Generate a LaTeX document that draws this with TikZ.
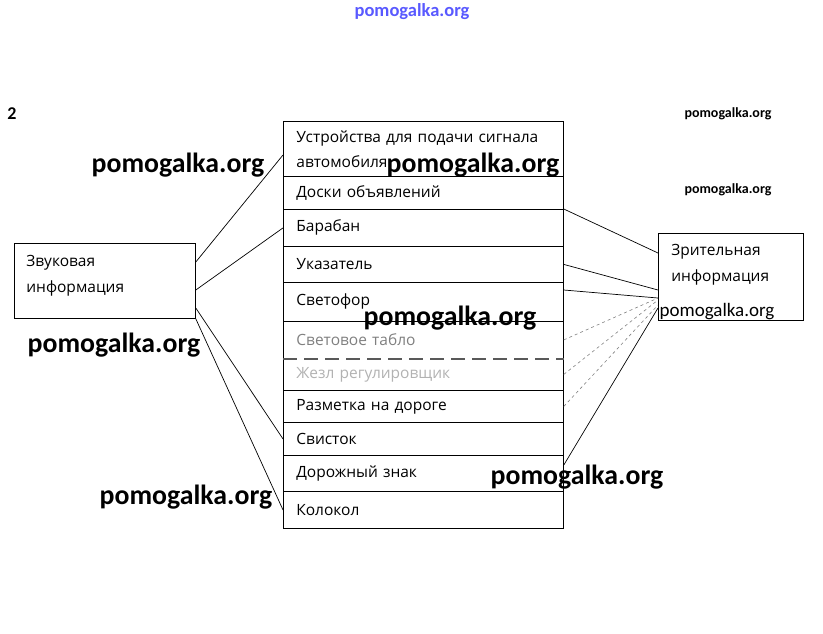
\documentclass[tikz,border=0pt]{standalone}
\usepackage{fontspec}
\setmainfont{Open Sans}
\newfontfamily\wmfont{Carlito}
\usetikzlibrary{positioning,calc}

\tikzset{
  rowbox/.style={draw, line width=0.8pt, anchor=north west, minimum width=280pt, text width=254pt, inner xsep=13pt, align=left, font=\fontsize{15.5}{25}\selectfont},
  infobox/.style={draw, line width=0.8pt, anchor=north west, align=left, inner xsep=12pt, text height=10pt, font=\fontsize{15.5}{26}\selectfont},
  link/.style={line width=0.7pt},
  faded/.style={line width=0.6pt, gray, dashed},
  wmbig/.style={font=\wmfont\bfseries\fontsize{27.8}{30}\selectfont},
  wmsmall/.style={font=\wmfont\bfseries\fontsize{14}{16}\selectfont},
}

\begin{document}
\begin{tikzpicture}[x=1pt,y=-1pt]
\useasboundingbox (0,0) rectangle (823,633);

% list of signals in the middle
\foreach \name/\top/\h/\txt in {
    r1/121/55/{Устройства для подачи сигнала\\автомобиля},
    r2/176/33/{Доски объявлений},
    r3/209/37/{Барабан},
    r4/246/36/{Указатель},
    r5/282/39/{Светофор},
    r6/321/37/{\color{gray}Световое табло},
    r7/358/32/{\color{gray!60}Жезл регулировщик},
    r8/390/32/{Разметка на дороге},
    r9/422/33/{Свисток},
    r10/455/36/{Дорожный знак},
    r11/491/37/{Колокол}}
  \node[rowbox, minimum height=\h pt] (\name) at (283,\top) {\txt};
\draw[white, line width=1.6pt] (r6.south west) -- (r6.south east);
\draw[line width=1.6pt, gray!70!black, dash pattern=on 14pt off 7pt] (r6.south west) -- (r6.south east);

% the two kinds of information
\node[infobox, minimum width=181pt, minimum height=75pt, text width=157pt, text depth=38pt] (sound) at (14,243) {Звуковая\\информация};
\node[infobox, minimum width=144pt, minimum height=87pt, text width=119pt, inner xsep=13pt, text depth=52pt] (vis) at (658,233) {Зрительная\\информация};

\coordinate (v1) at ([yshift=-20pt]vis.north west);
\coordinate (v2) at ([yshift=-57pt]vis.north west);
\coordinate (v3) at ([yshift=-65pt]vis.north west);
\coordinate (v4) at ([yshift=-67pt]vis.north west);
\coordinate (v5) at ([yshift=-72pt]vis.north west);
\coordinate (v6) at ([yshift=-75pt]vis.north west);

% sound
\draw[link] ([yshift=-19pt]sound.north east) -- ([yshift=-34pt]r1.north west);
\draw[link] ([yshift=-47pt]sound.north east) -- (r3.west);
\draw[link] ([yshift=-65pt]sound.north east) -- (r9.west);
\draw[link] (sound.south east) -- (r11.west);

% visual
\draw[link] (r3.north east) -- (v1);
\draw[link] (r4.east) -- (v2);
\draw[link] ([yshift=-8pt]r5.north east) -- (v3);
\draw[faded] (r6.east) -- (v3);
\draw[faded] (r7.east) -- (v4);
\draw[faded] (r8.east) -- (v5);
\draw[link] ([yshift=-10pt]r10.north east) -- (v6);

% watermarks
\node[font=\wmfont\bfseries\fontsize{18.5}{20}\selectfont, text=blue!65] (wtop) at (412,12) {pomogalka.org};
\node[font=\wmfont\bfseries\fontsize{18}{20}\selectfont] (num) at (12,114) {2};
\node[wmsmall] (w1) at (728,114) {pomogalka.org};
\node[wmsmall] (w2) at (728,190) {pomogalka.org};
\node[wmbig] (w3) at (178,165) {pomogalka.org};
\node[wmbig] (w4) at (473,165) {pomogalka.org};
\node[wmbig] (w5) at (450,318) {pomogalka.org};
\node[wmbig] (w6) at (114,345) {pomogalka.org};
\node[wmbig] (w7) at (186,497) {pomogalka.org};
\node[wmbig] (w8) at (577,477) {pomogalka.org};
\node[font=\wmfont\fontsize{19}{21}\selectfont] (w9) at (717,312) {pomogalka.org};
\end{tikzpicture}
\end{document}
